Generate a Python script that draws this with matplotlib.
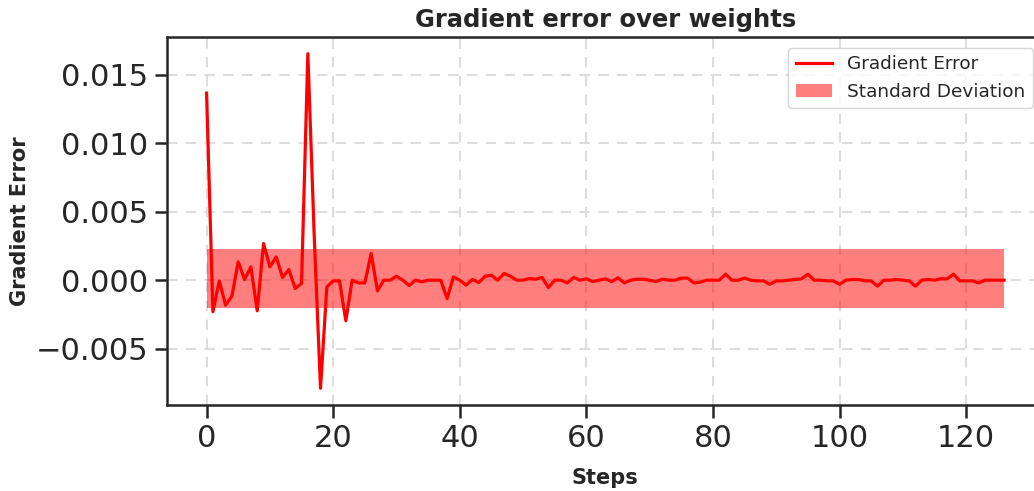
import matplotlib
matplotlib.use("Agg")
import matplotlib.pyplot as plt
import numpy as np

# Data
gradient_error = [
    0.01367, -0.00231, -0.00005, -0.00182, -0.00117, 0.00134, 0.00005, 0.00097, -0.00224, 0.00268,
    0.00097, 0.00170, 0.00020, 0.00078, -0.00061, -0.00024, 0.01655, 0.00330, -0.00790, -0.00049,
    -0.00005, -0.00005, -0.00297, 0.00000, -0.00020, -0.00020, 0.00195, -0.00078, 0.00000, 0.00000,
    0.00029, 0.00000, -0.00039, 0.00000, -0.00012, 0.00000, 0.00000, 0.00000, -0.00134, 0.00024,
    0.00000, -0.00036, 0.00005, -0.00017, 0.00029, 0.00036, 0.00000, 0.00049, 0.00029, 0.00000,
    0.00000, 0.00012, 0.00007, 0.00020, -0.00054, 0.00000, 0.00000, -0.00020, 0.00020, 0.00000,
    0.00010, -0.00010, 0.00000, 0.00010, -0.00010, 0.00017, -0.00020, 0.00000, 0.00007, 0.00007,
    0.00000, -0.00010, 0.00007, 0.00000, 0.00000, 0.00015, 0.00015, -0.00020, -0.00015, 0.00000,
    0.00000, 0.00000, 0.00044, 0.00000, 0.00000, 0.00015, 0.00000, -0.00005, -0.00005, -0.00030,
    -0.00005, -0.00005, 0.00000, 0.00005, 0.00010, 0.00044, 0.00000, 0.00000, -0.00005, -0.00005,
    -0.00030, 0.00000, 0.00005, 0.00005, -0.00005, -0.00005, -0.00044, 0.00000, 0.00000, 0.00005,
    0.00000, -0.00005, -0.00044, 0.00000, 0.00005, 0.00000, 0.00010, 0.00010, 0.00044, -0.00005,
    -0.00005, -0.00005, -0.00020, 0.00000, 0.00000, 0.00000, 0.00000,
]
steps = list(range(len(gradient_error)))
std_upper = 0.00231
std_lower = -0.00202

x_ticks = [0, 20, 40, 60, 80, 100, 120]
y_ticks = [-0.005, 0.000, 0.005, 0.010, 0.015]

TEXT = "#262626"

fig = plt.figure(figsize=(10.34, 4.91), dpi=100)
ax = fig.add_axes([166.7 / 1034, 1 - 405 / 491, (1044 - 166.7) / 1034, (405 - 37) / 491])

ax.plot(steps, gradient_error, color="red", linewidth=2.3, label="Gradient Error", zorder=3)
ax.fill_between(steps, [std_lower] * len(steps), [std_upper] * len(steps),
                color="red", alpha=0.5, linewidth=0, label="Standard Deviation", zorder=2)

ax.set_xticks(x_ticks)
ax.set_yticks(y_ticks)
ax.grid(True, linestyle=(0, (5, 4)), color="#dddddd", linewidth=1.5, zorder=0)
ax.set_axisbelow(True)

for s in ax.spines.values():
    s.set_color(TEXT)
    s.set_linewidth(1.8)

ax.tick_params(axis="both", which="major", labelsize=22, length=9, width=1.8,
               color=TEXT, labelcolor=TEXT, pad=4.5)

ax.set_title("Gradient error over weights", fontsize=17.5, fontweight="bold", color=TEXT, pad=7)
ax.set_xlabel("Steps", fontsize=15, fontweight="bold", color=TEXT, labelpad=11)
ax.set_ylabel("Gradient Error", fontsize=15, fontweight="bold", color=TEXT, labelpad=4)

leg = ax.legend(loc="upper right", fontsize=13.3, frameon=True, fancybox=True,
                edgecolor="#cccccc", framealpha=0.8, borderaxespad=0.6)
for t in leg.get_texts():
    t.set_color(TEXT)

fig.savefig("out.png", dpi=100)
